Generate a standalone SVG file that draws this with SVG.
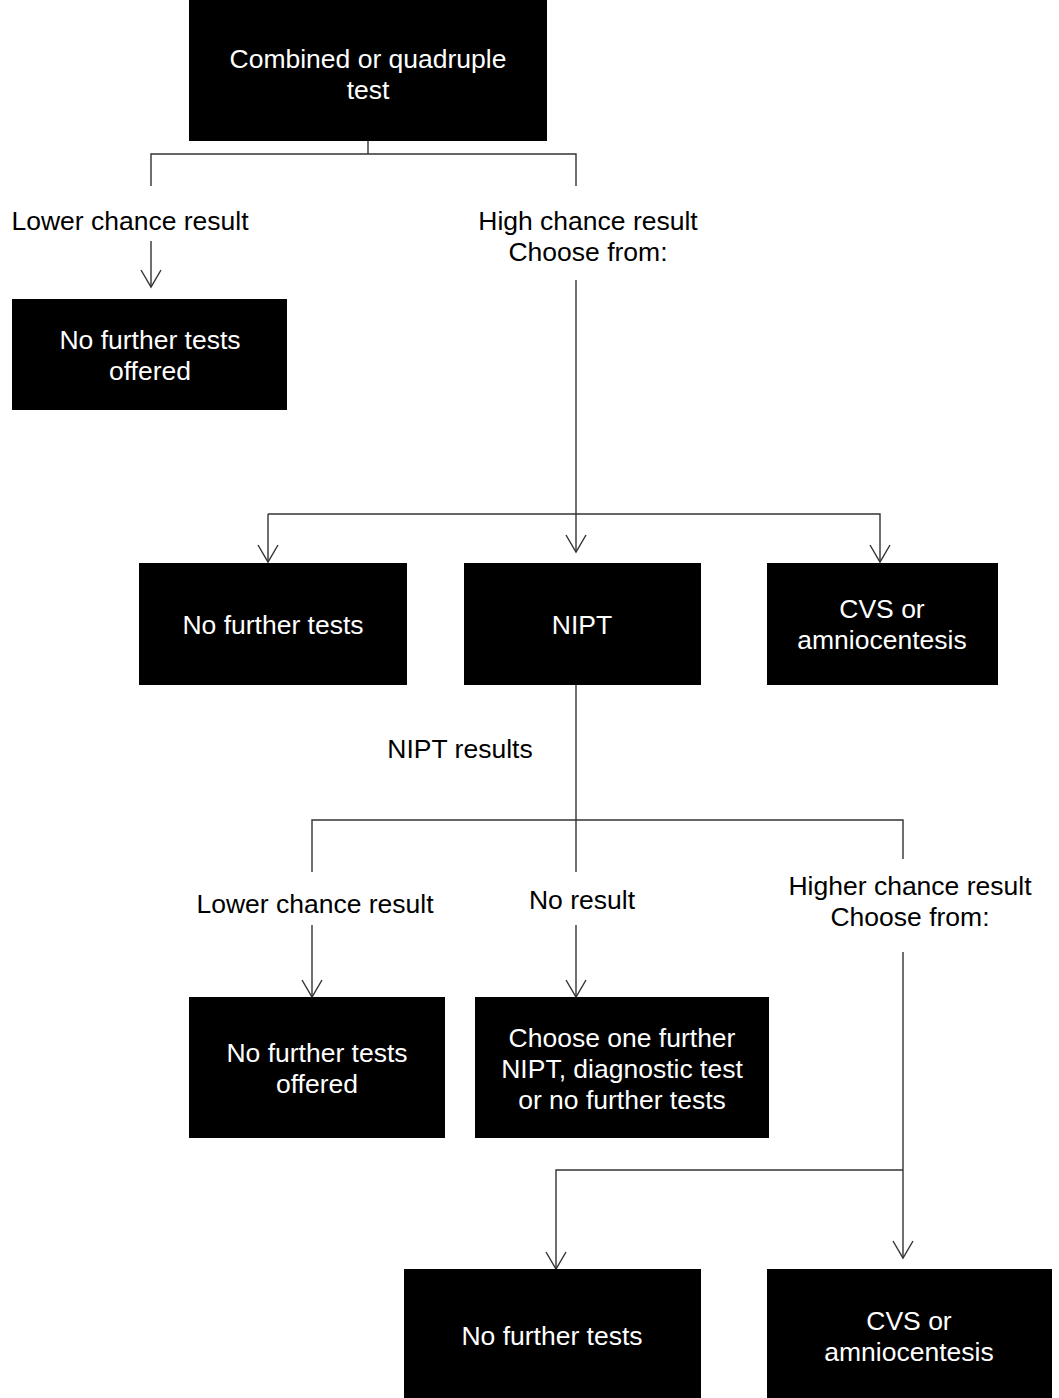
<svg xmlns="http://www.w3.org/2000/svg" width="1059" height="1398" viewBox="0 0 1059 1398">
<defs>
<marker id="ah" markerWidth="20" markerHeight="24" refX="18" refY="12" orient="auto" markerUnits="userSpaceOnUse" viewBox="0 0 20 24">
<path d="M1,2 L18,12 L1,22" fill="none" stroke="#333" stroke-width="1.4"/>
</marker>
<style>
.box{fill:#000}
.wt{fill:#fff;font-family:"Liberation Sans",Arial,sans-serif;font-size:26.5px;text-anchor:middle}
.bt{fill:#000;font-family:"Liberation Sans",Arial,sans-serif;font-size:26.5px;text-anchor:middle}
.ln{fill:none;stroke:#333;stroke-width:1.4}
.ar{fill:none;stroke:#333;stroke-width:1.4;marker-end:url(#ah)}
</style>
</defs>
<rect width="1059" height="1398" fill="#fff"/>
<g id="connectors">
<path class="ln" d="M368,141 V154 M151,186 V154 H576 V186"/>
<path class="ar" d="M151,241 V287"/>
<path class="ar" d="M576,280 V552"/>
<path class="ar" d="M268,514 H880 V562"/>
<path class="ar" d="M268,514 V562"/>
<path class="ln" d="M576,685 V872"/>
<path class="ln" d="M312,872 V820 H903 V859"/>
<path class="ar" d="M312,925 V997"/>
<path class="ar" d="M576,925 V997"/>
<path class="ar" d="M903,952 V1258"/>
<path class="ar" d="M903,1170 H556 V1269"/>
</g>
<g id="n1"><rect class="box" x="189" y="0" width="358" height="141"/><text class="wt" x="368" y="68">Combined or quadruple</text><text class="wt" x="368" y="99">test</text></g>
<g id="l1"><text class="bt" x="130" y="230">Lower chance result</text></g>
<g id="l2"><text class="bt" x="588" y="230">High chance result</text><text class="bt" x="588" y="261">Choose from:</text></g>
<g id="n2"><rect class="box" x="12" y="299" width="275" height="111"/><text class="wt" x="150" y="349">No further tests</text><text class="wt" x="150" y="380">offered</text></g>
<g id="n3"><rect class="box" x="139" y="563" width="268" height="122"/><text class="wt" x="273" y="634">No further tests</text></g>
<g id="n4"><rect class="box" x="464" y="563" width="237" height="122"/><text class="wt" x="582" y="634">NIPT</text></g>
<g id="n5"><rect class="box" x="767" y="563" width="231" height="122"/><text class="wt" x="882" y="618">CVS or</text><text class="wt" x="882" y="649">amniocentesis</text></g>
<g id="l3"><text class="bt" x="460" y="758">NIPT results</text></g>
<g id="l4"><text class="bt" x="315" y="913">Lower chance result</text></g>
<g id="l5"><text class="bt" x="582" y="909">No result</text></g>
<g id="l6"><text class="bt" x="910" y="895">Higher chance result</text><text class="bt" x="910" y="926">Choose from:</text></g>
<g id="n6"><rect class="box" x="189" y="997" width="256" height="141"/><text class="wt" x="317" y="1062">No further tests</text><text class="wt" x="317" y="1093">offered</text></g>
<g id="n7"><rect class="box" x="475" y="997" width="294" height="141"/><text class="wt" x="622" y="1047">Choose one further</text><text class="wt" x="622" y="1078">NIPT, diagnostic test</text><text class="wt" x="622" y="1109">or no further tests</text></g>
<g id="n8"><rect class="box" x="404" y="1269" width="297" height="129"/><text class="wt" x="552" y="1345">No further tests</text></g>
<g id="n9"><rect class="box" x="767" y="1269" width="285" height="129"/><text class="wt" x="909" y="1330">CVS or</text><text class="wt" x="909" y="1361">amniocentesis</text></g>
</svg>
